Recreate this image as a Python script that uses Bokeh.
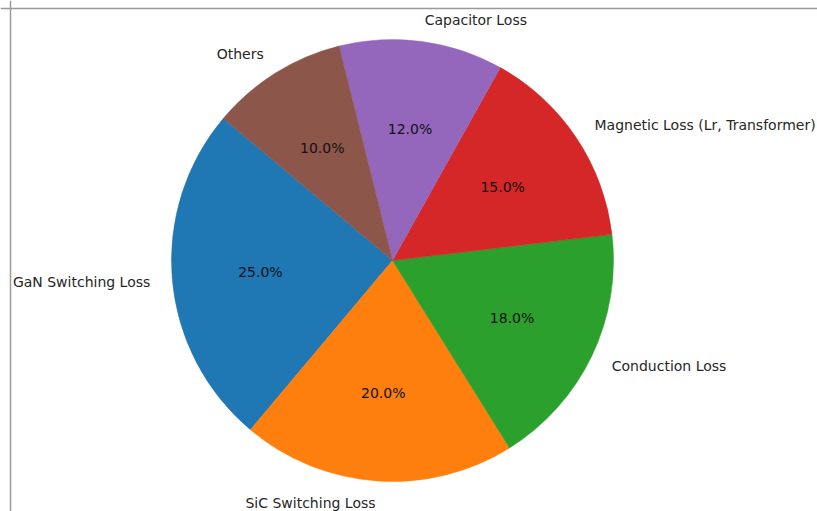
import numpy as np
from bokeh.plotting import figure
from bokeh.models import Range1d, Span, ColumnDataSource
from bokeh.core.properties import value
from bokeh.embed import file_html
from bokeh.resources import INLINE

labels = ["GaN Switching Loss", "SiC Switching Loss", "Conduction Loss",
          "Magnetic Loss (Lr, Transformer)", "Capacitor Loss", "Others"]
shares = [25, 20, 18, 15, 12, 10]
colors = ["#1f77b4", "#ff7f0e", "#2ca02c", "#d62728", "#9467bd", "#8c564b"]
start_deg = 140.0

vals = np.array(shares, dtype=float)
frac = vals / vals.sum()
ends = np.deg2rad(start_deg) + 2 * np.pi * np.cumsum(frac)
starts = ends - 2 * np.pi * frac
mids = (starts + ends) / 2

R = 221.0
src = ColumnDataSource(dict(start=starts, end=ends, color=colors))

p = figure(width=817, height=511, output_backend="svg", toolbar_location=None,
           x_range=Range1d(-392, 425), y_range=Range1d(-251, 260),
           min_border=0, outline_line_color=None)
p.axis.visible = False
p.grid.visible = False

p.wedge(x=0, y=0, radius=R, start_angle="start", end_angle="end",
        direction="anticlock", fill_color="color", line_color="color",
        line_width=0.5, source=src)

pct_txt = [f"{v:.1f}%" for v in frac * 100]
p.text(x=0.6 * R * np.cos(mids), y=0.6 * R * np.sin(mids), text=pct_txt,
       text_font=value("DejaVu Sans"), text_font_size="14px",
       text_color="#111111", text_align="center", text_baseline="middle")

lx = 1.1 * R * np.cos(mids)
ly = 1.1 * R * np.sin(mids)
aligns = ["left" if c > 0 else "right" for c in np.cos(mids)]
p.text(x=lx, y=ly, text=labels, text_align=aligns,
       text_font=value("DejaVu Sans"), text_font_size="14px",
       text_color="#262626", text_baseline="middle")

p.add_layout(Span(location=252, dimension="width", line_color="#9a9a9a", line_width=1.5))
p.add_layout(Span(location=-382, dimension="height", line_color="#9a9a9a", line_width=1.5))

open("out.html", "w").write(file_html(p, INLINE))
